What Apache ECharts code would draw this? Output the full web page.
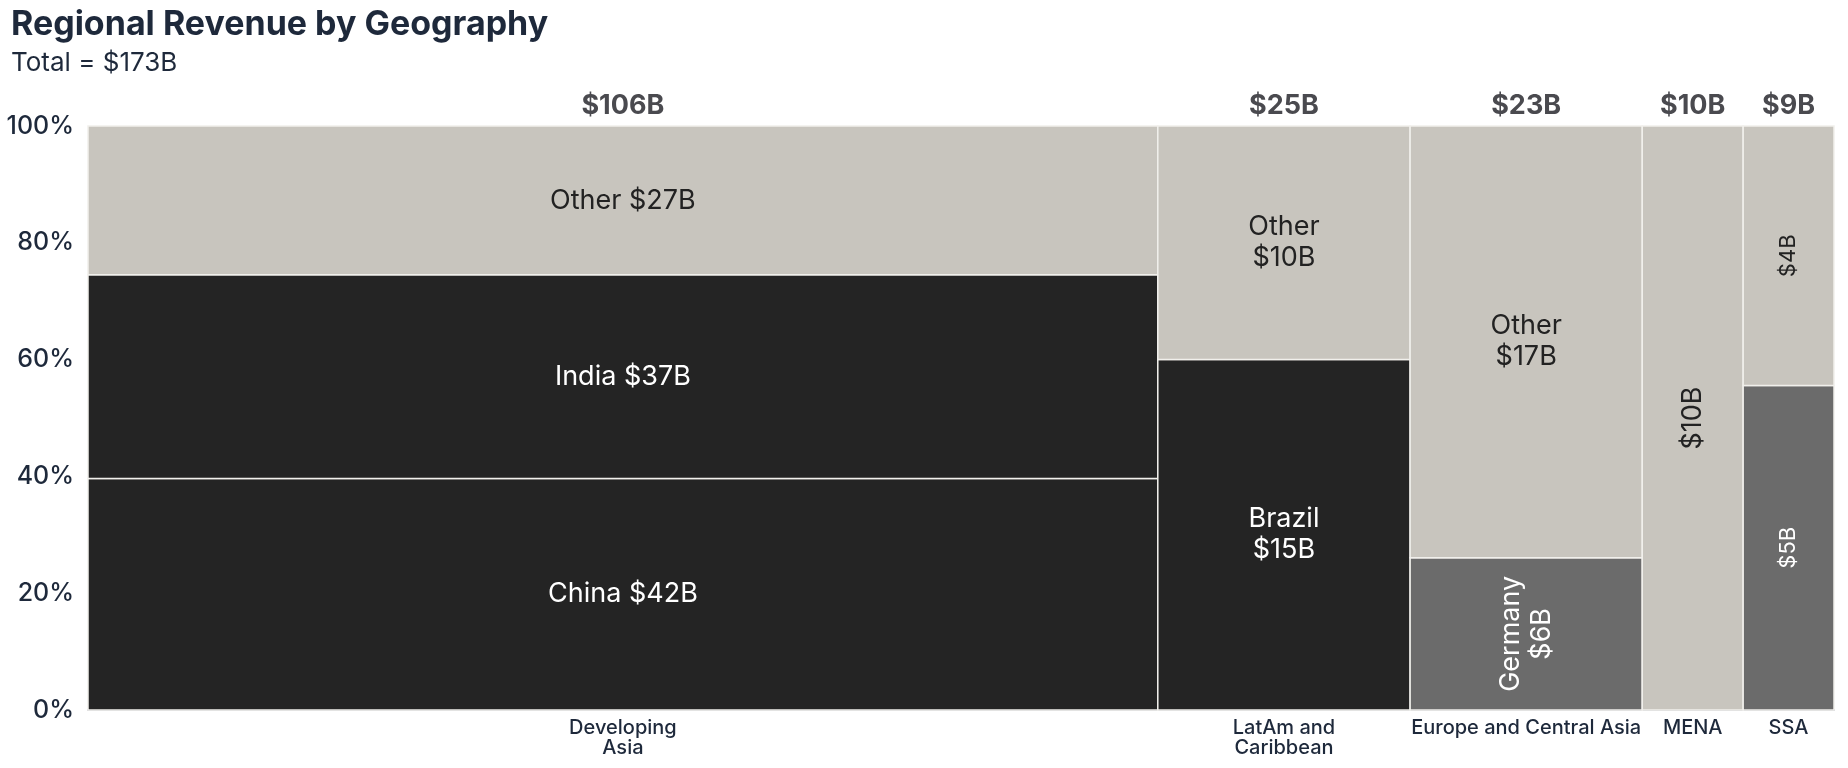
<!DOCTYPE html>
<html>
<head>
<meta charset="utf-8">
<script src="https://cdn.jsdelivr.net/npm/echarts@6/dist/echarts.min.js"></script>
<style>
  html, body { margin: 0; padding: 0; background: #fff; }
  #mosaic-chart { width: 1848px; height: 768px; }
</style>
</head>
<body>
<div id="mosaic-chart"></div>
<script>
// regions (columns), width = total revenue
const regionNames = ["Developing\nAsia", "LatAm and\nCaribbean", "Europe and Central Asia", "MENA", "SSA"];
const regionTotals = [106, 25, 23, 10, 9];

// segments, stacked bottom -> top inside each region
const segRegion = [0, 0, 0, 1, 1, 2, 2, 3, 4, 4];
const segNames = ["China", "India", "Other", "Brazil", "Other", "Germany", "Other", "", "", ""];
const segValues = [42, 37, 27, 15, 10, 6, 17, 10, 5, 4];
const segTone = [0, 0, 1, 0, 1, 2, 1, 1, 2, 1]; // 0 dark, 1 other, 2 mid

const yTicks = [0, 20, 40, 60, 80, 100];

const toneColor = ["#242424", "#c8c5be", "#6b6b6b"];
const toneText = ["#ffffff", "#222222", "#ffffff"];
const fontMain = "Inter, 'Noto Sans', sans-serif";

// build x ranges of regions
let regionStart = [];
let acc = 0;
regionTotals.forEach((t) => {
  regionStart.push(acc);
  acc += t;
});
const grandTotal = acc;

// build segment rects [x0, x1, y0, y1, idx]
let segData = [];
let stackPct = regionTotals.map(() => 0);
segValues.forEach((v, i) => {
  const r = segRegion[i];
  const pct = (v / regionTotals[r]) * 100;
  const y0 = stackPct[r];
  const y1 = y0 + pct;
  stackPct[r] = y1;
  segData.push([regionStart[r], regionStart[r] + regionTotals[r], y0, y1, i]);
});

const regionData = regionTotals.map((t, i) => [regionStart[i], regionStart[i] + t, t, i]);

let chart = echarts.init(document.getElementById("mosaic-chart"));

let option = {
  animation: false,
  title: {
    text: "Regional Revenue by Geography",
    subtext: "Total = $" + grandTotal + "B",
    left: 6,
    top: 3,
    itemGap: 8,
    textStyle: { fontFamily: fontMain, fontSize: 34, fontWeight: "bold", color: "#1e293b" },
    subtextStyle: { fontFamily: fontMain, fontSize: 26, color: "#1e293b" },
  },
  grid: { left: 88, right: 14, top: 126, bottom: 58 },
  xAxis: {
    type: "value",
    min: 0,
    max: grandTotal,
    axisLine: { show: true, lineStyle: { color: "#b8bcc4", width: 2 } },
    axisTick: { show: false },
    axisLabel: { show: false },
    splitLine: { show: false },
  },
  yAxis: {
    type: "value",
    min: 0,
    max: 100,
    interval: 20,
    axisLine: { show: false },
    axisTick: { show: false },
    splitLine: { show: false },
    axisLabel: {
      margin: 14,
      fontFamily: fontMain,
      fontSize: 25,
      fontWeight: 500,
      color: "#1e293b",
      formatter: (v) => (yTicks.includes(v) ? v + "%" : ""),
    },
  },
  series: [
    {
      type: "custom",
      data: segData,
      z: 3,
      renderItem: function (params, api) {
        const i = api.value(4);
        const pA = api.coord([api.value(0), api.value(3)]);
        const pB = api.coord([api.value(1), api.value(2)]);
        const w = pB[0] - pA[0];
        const h = pB[1] - pA[1];
        const tone = segTone[i];
        const name = segNames[i];
        const val = "$" + segValues[i] + "B";
        let label;
        if (!name) label = val;
        else if (w > 400) label = name + " " + val;
        else label = name + "\n" + val;
        const rotate = w < 150 || (w < 240 && h < 200);
        const fs = w < 95 ? 22 : 27;
        return {
          type: "group",
          children: [
            {
              type: "rect",
              shape: { x: pA[0], y: pA[1], width: w, height: h },
              style: { fill: toneColor[tone], stroke: "#f1f0ec", lineWidth: 1.5 },
            },
            {
              type: "text",
              x: pA[0] + w / 2,
              y: pA[1] + h / 2,
              rotation: rotate ? Math.PI / 2 : 0,
              style: {
                text: label,
                fill: toneText[tone],
                font: fs + "px " + fontMain,
                lineHeight: fs * 1.15,
                align: "center",
                verticalAlign: "middle",
              },
            },
          ],
        };
      },
    },
    {
      // totals above + region names below
      type: "custom",
      data: regionData,
      z: 4,
      renderItem: function (params, api) {
        const mid = (api.value(0) + api.value(1)) / 2;
        const top = api.coord([mid, 100]);
        const bot = api.coord([mid, 0]);
        return {
          type: "group",
          children: [
            {
              type: "text",
              x: top[0],
              y: top[1] - 20,
              style: {
                text: "$" + api.value(2) + "B",
                fill: "#4a4a4f",
                font: "bold 27px " + fontMain,
                align: "center",
                verticalAlign: "middle",
              },
            },
            {
              type: "text",
              x: bot[0],
              y: bot[1] + 8,
              style: {
                text: regionNames[api.value(3)],
                fill: "#1e293b",
                font: "500 20px " + fontMain,
                lineHeight: 20,
                align: "center",
                verticalAlign: "top",
              },
            },
          ],
        };
      },
    },
  ],
};

chart.setOption(option);
</script>
</body>
</html>
